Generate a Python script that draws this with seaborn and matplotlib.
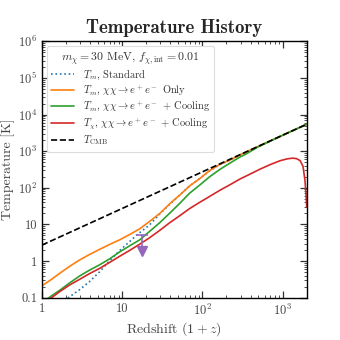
import numpy as np
import pandas as pd
import matplotlib
matplotlib.use("Agg")
import matplotlib.pyplot as plt
import matplotlib.ticker as mticker
import seaborn as sns

# ---- data ----
cmb_z = [1, 2000]
cmb_T = [2.725, 5450]

std_z = [1.58, 2.14, 3.0, 3.89, 5.2, 6.92, 9.77, 12.4, 15.1, 18.5, 21.9, 29.5, 38.9, 52.5, 69.2, 93.3, 123, 166, 219, 316, 501, 2000]
std_T = [0.056, 0.1, 0.17, 0.27, 0.5, 1.0, 2.14, 3.4, 5.1, 7.2, 9.6, 19.5, 35, 64, 112, 180, 290, 430, 565, 850, 1355, 5450]

ann_z = [1, 1.3, 1.66, 2.2, 2.95, 3.9, 5.25, 7.0, 9.33, 12.4, 16.6, 21.9, 29.5, 38.9, 52.5, 69.2, 93.3, 123, 166, 219, 316, 501, 2000]
ann_T = [0.21, 0.31, 0.46, 0.71, 1.07, 1.5, 2.09, 2.85, 3.8, 5.3, 7.6, 12.0, 20, 36, 64, 112, 180, 295, 440, 570, 855, 1360, 5450]

cool_z = [1, 1.3, 1.66, 2.2, 2.95, 3.9, 5.25, 7.0, 9.33, 12.4, 16.6, 21.9, 29.5, 38.9, 52.5, 69.2, 93.3, 123, 166, 219, 290, 355, 501, 1000, 2000]
cool_T = [0.071, 0.11, 0.158, 0.25, 0.39, 0.56, 0.79, 1.15, 1.78, 2.6, 3.8, 6.4, 11.2, 20, 38, 71, 120, 200, 320, 468, 680, 850, 1330, 2720, 5450]

chi_z = [1, 1.32, 1.66, 2.2, 2.95, 3.9, 5.25, 7.0, 9.33, 12.4, 16.6, 21.9, 29.5, 38.9, 52.5, 69.2, 93.3, 123, 166, 219, 295, 389,
         525, 700, 933, 1150, 1349, 1500, 1660, 1803, 1905, 1968, 2000]
chi_T = [0.071, 0.1, 0.145, 0.22, 0.316, 0.45, 0.63, 0.92, 1.35, 1.95, 2.9, 4.3, 6.9, 11.0, 17.4, 27.0, 40.5, 58, 86, 120, 174, 234,
         324, 430, 550, 620, 646, 625, 550, 380, 158, 60, 30]

edges_z = 17.9
edges_T_top = 5.1
edges_T_bottom = 1.75

labels = [r"$T_m$, Standard",
          r"$T_m$, $\chi\chi \to e^+e^-$ Only",
          r"$T_m$, $\chi\chi \to e^+e^-$ + Cooling",
          r"$T_\chi$, $\chi\chi \to e^+e^-$ + Cooling",
          r"$T_{\rm CMB}$"]
legend_title = r"$m_\chi = 30$ MeV, $f_{\chi,\rm int} = 0.01$"

# ---- style ----
sns.set_style("ticks")
plt.rcParams["font.family"] = "serif"
plt.rcParams["font.serif"] = ["cmr10"]
plt.rcParams["mathtext.fontset"] = "cm"
plt.rcParams["axes.formatter.use_mathtext"] = True
plt.rcParams["axes.unicode_minus"] = False

fig = plt.figure(figsize=(3.4, 3.4), dpi=100)
ax = fig.add_axes([0.1235, 0.1247, 0.7785, 0.7535])

lw = 1.2
sns.lineplot(x=std_z, y=std_T, ax=ax, color="#1f77b4", linestyle=":", lw=lw,
             sort=False, estimator=None, label=labels[0])
sns.lineplot(x=ann_z, y=ann_T, ax=ax, color="#ff7f0e", lw=lw,
             sort=False, estimator=None, label=labels[1])
sns.lineplot(x=cool_z, y=cool_T, ax=ax, color="#2ca02c", lw=lw,
             sort=False, estimator=None, label=labels[2])
sns.lineplot(x=chi_z, y=chi_T, ax=ax, color="#d62728", lw=lw,
             sort=False, estimator=None, label=labels[3])
sns.lineplot(x=cmb_z, y=cmb_T, ax=ax, color="black", linestyle="--", lw=lw,
             sort=False, estimator=None, label=labels[4])

# upper-limit arrow
purple = "#9467bd"
ax.plot([edges_z, edges_z], [edges_T_top, edges_T_bottom * 1.15], color=purple, lw=1.2)
ax.plot([edges_z], [edges_T_top], marker="_", ms=9, mew=1.2, color=purple)
ax.plot([edges_z], [edges_T_bottom * 1.1], marker="v", ms=7, color=purple)

ax.set_xscale("log")
ax.set_yscale("log")
ax.set_xlim(1, 2000)
ax.set_ylim(0.1, 1e6)

ax.set_xticks([1, 10, 100, 1000], ["1", "10", r"$10^2$", r"$10^3$"])
ax.set_yticks([0.1, 1, 10, 1e2, 1e3, 1e4, 1e5, 1e6],
              ["0.1", "1", "10", r"$10^2$", r"$10^3$", r"$10^4$", r"$10^5$", r"$10^6$"])
ax.xaxis.set_minor_locator(mticker.LogLocator(base=10, subs=np.arange(2, 10), numticks=20))
ax.yaxis.set_minor_locator(mticker.LogLocator(base=10, subs=np.arange(2, 10), numticks=20))
ax.xaxis.set_minor_formatter(mticker.NullFormatter())
ax.yaxis.set_minor_formatter(mticker.NullFormatter())
ax.tick_params(which="both", direction="in", top=True, right=True, labelsize=9, colors="#333333",
               labelcolor="#444444")
ax.tick_params(which="major", length=5, width=0.9)
ax.tick_params(which="minor", length=2.5, width=0.6)
for s in ax.spines.values():
    s.set_linewidth(1.0)
    s.set_color("black")

ax.set_xlabel(r"Redshift $(1+z)$", fontsize=10, color="#444444", labelpad=2)
ax.set_ylabel("Temperature [K]", fontsize=10, color="#444444", labelpad=2)
ax.set_title("Temperature History", fontsize=13.5, fontfamily="cmb10", pad=6)

leg = ax.legend(loc="upper left", fontsize=7.5, title=legend_title, title_fontsize=8.5,
                frameon=True, fancybox=True, framealpha=1.0, edgecolor="#dddddd",
                labelspacing=0.2, handlelength=2.2, borderpad=0.4, handletextpad=0.85,
                borderaxespad=0.45)
leg.get_frame().set_linewidth(0.8)
for t in leg.get_texts():
    t.set_color("#333333")
leg.get_title().set_color("#333333")

fig.savefig("out.png", dpi=100)
